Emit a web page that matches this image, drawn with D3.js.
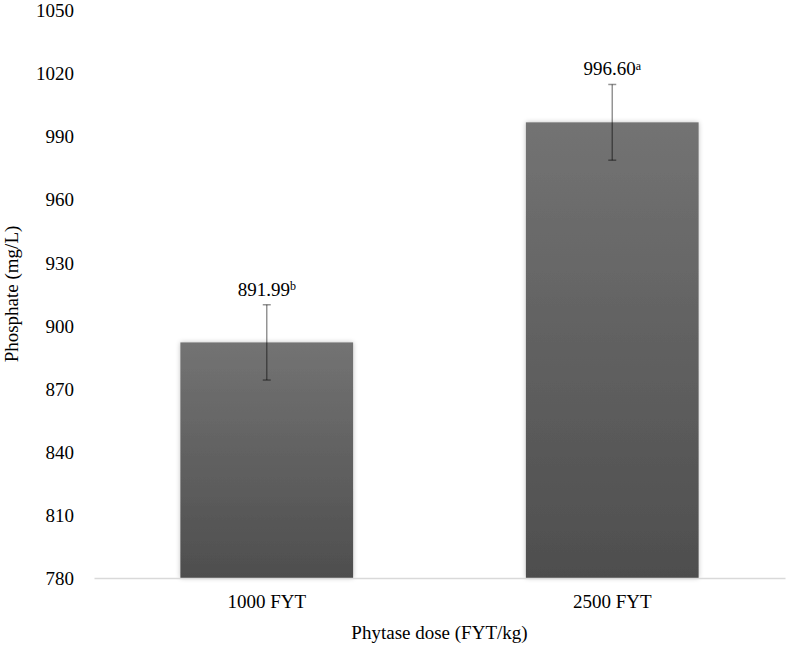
<!DOCTYPE html>
<html>
<head>
<meta charset="utf-8">
<script src="https://cdn.jsdelivr.net/npm/d3@7"></script>
<style>
	body { margin: 0; background: #fff; }
	svg text { font-family: "Liberation Serif", "DejaVu Serif", serif !important; }
</style>
</head>
<body>
<div id="chart"></div>
<script>
var categories = ["1000 FYT", "2500 FYT"];
var values = [891.99, 996.60];
var errors = [17.9, 18.0];
var letters = ["b", "a"];
var yTicks = [780, 810, 840, 870, 900, 930, 960, 990, 1020, 1050];

var FONT = "Liberation Serif";
var W = 788, H = 645;
var margin = {top: 10, right: 3, bottom: 67, left: 94},
	width = W - margin.left - margin.right,
	height = H - margin.top - margin.bottom;

var x = d3.scaleBand().domain(categories).range([0, width]).paddingInner(0.5).paddingOuter(0.25);
var y = d3.scaleLinear().domain([780, 1050]).range([height, 0]);

var svg = d3.select("#chart").append("svg")
	.attr("width", W)
	.attr("height", H)
	.attr("font-family", FONT);

var defs = svg.append("defs");
var grad = defs.append("linearGradient")
	.attr("id", "barGrad")
	.attr("x1", 0).attr("y1", 0).attr("x2", 0).attr("y2", 1);
grad.append("stop").attr("offset", "0%").attr("stop-color", "#737373");
grad.append("stop").attr("offset", "100%").attr("stop-color", "#4e4e4e");

var shadow = defs.append("filter").attr("id", "shadow")
	.attr("x", "-10%").attr("y", "-10%").attr("width", "120%").attr("height", "120%");
shadow.append("feGaussianBlur").attr("in", "SourceAlpha").attr("stdDeviation", 2.5).attr("result", "blur");
shadow.append("feComponentTransfer").attr("in", "blur").attr("result", "soft")
	.append("feFuncA").attr("type", "linear").attr("slope", 0.25);
var merge = shadow.append("feMerge");
merge.append("feMergeNode").attr("in", "soft");
merge.append("feMergeNode").attr("in", "SourceGraphic");

var g = svg.append("g")
	.attr("transform", "translate(" + margin.left + "," + margin.top + ")");

// y axis: labels only
var yAxis = g.append("g")
	.attr("class", "axis axis--y")
	.call(d3.axisLeft(y).tickValues(yTicks).tickFormat(d3.format("d")).tickSize(0).tickPadding(20));
yAxis.attr("font-family", FONT).attr("font-size", 19);
yAxis.select(".domain").remove();
yAxis.selectAll("text").attr("fill", "#000").attr("dy", "0.35em");

// bars
g.selectAll(".bar")
	.data(values)
	.enter().append("rect")
	.attr("class", "bar")
	.attr("x", function(d, i) { return x(categories[i]); })
	.attr("y", function(d) { return y(d); })
	.attr("width", x.bandwidth())
	.attr("height", function(d) { return height - y(d); })
	.attr("fill", "url(#barGrad)")
	.attr("filter", "url(#shadow)");

// x axis
var xAxis = g.append("g")
	.attr("class", "axis axis--x")
	.attr("transform", "translate(0," + height + ")")
	.call(d3.axisBottom(x).tickSize(0).tickPadding(17));
xAxis.attr("font-family", FONT).attr("font-size", 19);
xAxis.select(".domain").attr("stroke", "#d9d9d9").attr("stroke-width", 1.3);
xAxis.selectAll("text").attr("fill", "#000");

// error bars
var eb = g.selectAll(".err")
	.data(values)
	.enter().append("g")
	.attr("class", "err")
	.attr("stroke", "rgba(0,0,0,0.42)")
	.attr("stroke-width", 1.5);
var cx = function(i) { return x(categories[i]) + x.bandwidth() / 2; };
eb.append("line")
	.attr("x1", function(d, i) { return cx(i); })
	.attr("x2", function(d, i) { return cx(i); })
	.attr("y1", function(d, i) { return y(d + errors[i]); })
	.attr("y2", function(d, i) { return y(d - errors[i]); });
eb.append("line")
	.attr("x1", function(d, i) { return cx(i) - 4; })
	.attr("x2", function(d, i) { return cx(i) + 4; })
	.attr("y1", function(d, i) { return y(d + errors[i]); })
	.attr("y2", function(d, i) { return y(d + errors[i]); });
eb.append("line")
	.attr("x1", function(d, i) { return cx(i) - 4; })
	.attr("x2", function(d, i) { return cx(i) + 4; })
	.attr("y1", function(d, i) { return y(d - errors[i]); })
	.attr("y2", function(d, i) { return y(d - errors[i]); });

// value labels
var lbl = g.selectAll(".val")
	.data(values)
	.enter().append("text")
	.attr("class", "val")
	.attr("x", function(d, i) { return cx(i); })
	.attr("y", function(d, i) { return y(d + errors[i]) - 9; })
	.attr("text-anchor", "middle")
	.attr("font-size", 19);
lbl.append("tspan").text(function(d) { return d.toFixed(2); });
lbl.append("tspan")
	.attr("dy", "-0.45em")
	.attr("font-size", 12)
	.text(function(d, i) { return letters[i]; });

// axis titles
svg.append("text")
	.attr("x", margin.left + width / 2)
	.attr("y", 639)
	.attr("text-anchor", "middle")
	.attr("font-size", 19)
	.text("Phytase dose (FYT/kg)");

svg.append("text")
	.attr("transform", "translate(18," + (margin.top + height / 2) + ") rotate(-90)")
	.attr("text-anchor", "middle")
	.attr("font-size", 19)
	.text("Phosphate (mg/L)");
</script>
</body>
</html>
